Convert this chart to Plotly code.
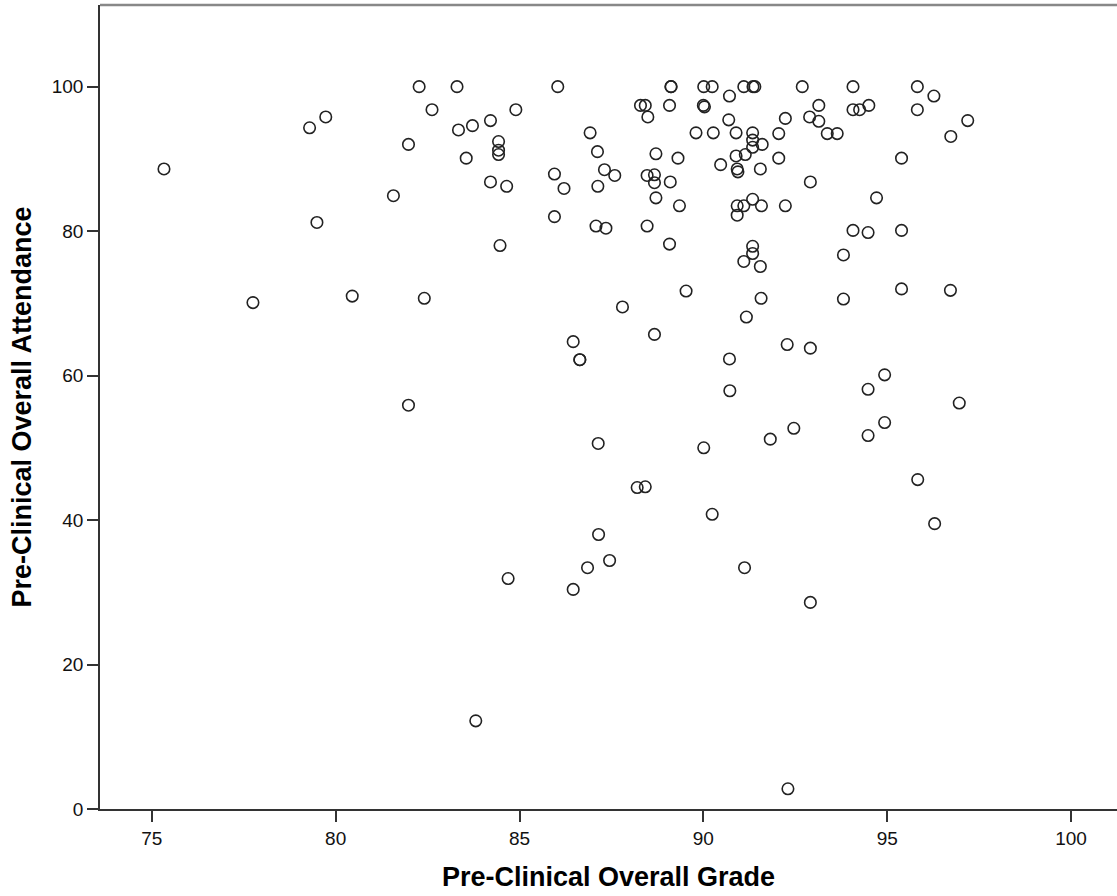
import plotly.graph_objects as go

grade = [
    82.27, 82.62, 79.73, 79.29, 81.98, 75.33, 81.57, 79.49, 77.75, 80.45, 82.41, 81.98,
    83.30, 86.04, 89.12, 89.12, 90.01, 90.24, 91.10, 91.35, 91.40, 84.90, 88.29, 88.42,
    88.49, 89.08, 90.00, 90.03, 90.71, 90.69, 83.34, 83.72, 84.21, 84.43, 84.43, 84.43,
    83.55, 84.21, 84.65, 84.47, 85.95, 86.21, 85.95, 86.92, 87.12, 87.31, 87.59, 87.13,
    87.08, 87.35, 88.71, 89.31, 88.47, 88.67, 88.67, 89.10, 88.71, 89.35, 88.47, 89.08,
    89.80, 90.27, 90.89, 91.34, 92.05, 91.34, 91.34, 91.60, 91.14, 90.89, 90.47, 90.92,
    90.94, 91.55, 92.05, 90.92, 91.10, 91.34, 91.58, 90.92, 92.23, 91.34, 91.34, 91.10,
    91.55, 89.53, 87.80, 91.57, 91.17, 88.67, 86.46, 86.64, 86.64, 90.71,
    92.69, 94.07, 95.82, 96.27, 93.14, 94.07, 94.25, 94.50, 95.82, 92.23, 92.89, 93.14,
    97.19, 96.73, 93.37, 93.64, 95.39, 92.91, 94.71, 94.07, 94.48, 95.39, 93.81, 93.81,
    95.39, 96.72, 92.28, 92.91,
    90.72, 91.82, 87.14, 90.01, 88.20, 88.42, 90.24, 87.15, 87.45, 86.85, 91.12, 84.69,
    86.46, 83.81, 94.93, 94.48, 96.96, 92.46, 94.93, 94.48, 95.83, 96.29, 92.91, 92.30,
]
attendance = [
    100.0, 96.8, 95.8, 94.3, 92.0, 88.6, 84.9, 81.2, 70.1, 71.0, 70.7, 55.9,
    100.0, 100.0, 100.0, 100.0, 100.0, 100.0, 100.0, 100.0, 100.0, 96.8, 97.4, 97.4,
    95.8, 97.4, 97.4, 97.2, 98.7, 95.4, 94.0, 94.6, 95.3, 92.4, 91.2, 90.6,
    90.1, 86.8, 86.2, 78.0, 87.9, 85.9, 82.0, 93.6, 91.0, 88.5, 87.7, 86.2,
    80.7, 80.4, 90.7, 90.1, 87.7, 87.8, 86.7, 86.8, 84.6, 83.5, 80.7, 78.2,
    93.6, 93.6, 93.6, 93.6, 93.5, 92.6, 91.6, 92.0, 90.6, 90.4, 89.2, 88.6,
    88.2, 88.6, 90.1, 83.5, 83.5, 84.4, 83.5, 82.2, 83.5, 77.9, 76.9, 75.8,
    75.1, 71.7, 69.5, 70.7, 68.1, 65.7, 64.7, 62.2, 62.2, 62.3,
    100.0, 100.0, 100.0, 98.7, 97.4, 96.8, 96.8, 97.4, 96.8, 95.6, 95.8, 95.2,
    95.3, 93.1, 93.5, 93.5, 90.1, 86.8, 84.6, 80.1, 79.8, 80.1, 76.7, 70.6,
    72.0, 71.8, 64.3, 63.8,
    57.9, 51.2, 50.6, 50.0, 44.5, 44.6, 40.8, 38.0, 34.4, 33.4, 33.4, 31.9,
    30.4, 12.2, 60.1, 58.1, 56.2, 52.7, 53.5, 51.7, 45.6, 39.5, 28.6, 2.8,
]

x_ticks = [75, 80, 85, 90, 95, 100]
y_ticks = [0, 20, 40, 60, 80, 100]

FONT = "Liberation Sans, Arial, sans-serif"

fig = go.Figure(
    go.Scatter(
        x=grade,
        y=attendance,
        mode="markers",
        marker=dict(symbol="circle-open", size=11.5, color="#222222", line=dict(width=1.6, color="#222222")),
        hoverinfo="x+y",
    )
)

fig.update_layout(
    width=1117,
    height=896,
    margin=dict(l=100, r=0, t=5, b=87),
    paper_bgcolor="white",
    plot_bgcolor="white",
    showlegend=False,
    font=dict(family=FONT, color="#111111"),
    shapes=[
        dict(type="line", xref="paper", yref="paper", x0=0, x1=1, y0=1, y1=1,
             line=dict(color="#888888", width=2.5)),
    ],
)

fig.update_xaxes(
    range=[73.59, 101.25],
    tickvals=x_ticks,
    ticks="outside",
    ticklen=11,
    tickwidth=1.5,
    tickcolor="#333333",
    showline=True,
    linecolor="#333333",
    linewidth=1.5,
    showgrid=False,
    zeroline=False,
    tickfont=dict(size=19, family=FONT, color="#111111"),
    title=dict(text="<b>Pre-Clinical Overall Grade</b>", font=dict(size=27, family=FONT, color="#000000"), standoff=20),
)

fig.update_yaxes(
    range=[0, 111.3],
    tickvals=y_ticks,
    ticks="outside",
    ticklen=11,
    tickwidth=1.5,
    tickcolor="#333333",
    showline=True,
    linecolor="#333333",
    linewidth=1.5,
    showgrid=False,
    zeroline=False,
    tickfont=dict(size=19, family=FONT, color="#111111"),
    title=dict(text="<b>Pre-Clinical Overall Attendance</b>", font=dict(size=27, family=FONT, color="#000000"), standoff=12),
)

fig.write_html(
    "out.html",
    config={"displayModeBar": False},
    post_script="document.body.style.margin='0';document.body.style.padding='0';",
)
